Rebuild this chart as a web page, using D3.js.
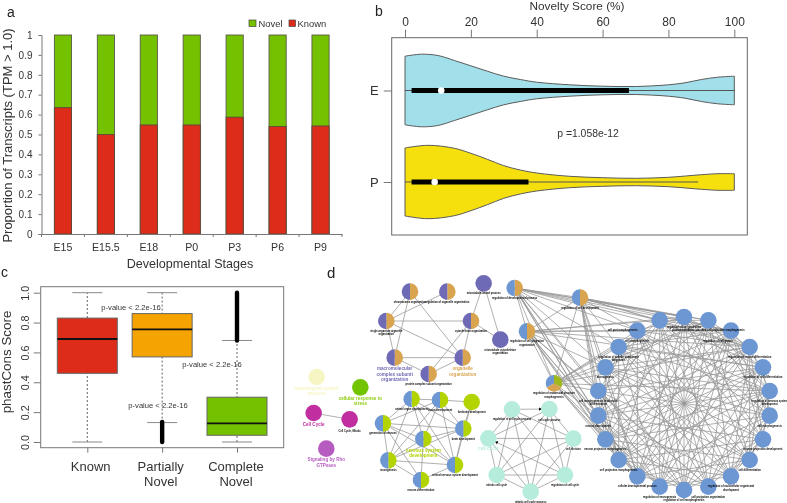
<!DOCTYPE html>
<html><head><meta charset="utf-8">
<style>html,body{margin:0;padding:0;background:#fff;overflow:hidden}svg{display:block;font-family:"Liberation Sans",Arial,sans-serif;filter:blur(.35px)}</style>
<script src="https://cdn.jsdelivr.net/npm/d3@7/dist/d3.min.js"></script>
</head><body><svg id="c" width="787" height="503"></svg>
<script>
// ---------- panel a data ----------
const stages=["E15","E15.5","E18","P0","P3","P6","P9"];
const knownShare=[0.635,0.5,0.548,0.548,0.587,0.54,0.543];
const shareTicks=[0,0.1,0.2,0.3,0.4,0.5,0.6,0.7,0.8,0.9,1];
// ---------- panel b data ----------
const scoreGridE=[0,5,10,15,20,25,30,35,40,50,60,70,80,85,90,95,100];
const densityE=[34.3,36.3,35,30,24.7,19.3,14.3,11,8.3,5.7,4.3,4,5.7,7.7,11,13.3,14.3];
const scoreGridP=[0,7,15,20,25,30,35,40,50,60,70,80,90,95,100];
const densityP=[34,36.7,33.7,28.7,22.7,16.3,12,9,5.7,4.3,3.7,4.7,7.3,8.3,8.3];
const violinGroups=["E","P"];
const whiskerRange=[[0,100],[0,89]];
const iqrRange=[[2,68],[2,37.5]];
const violinMedian=[11,9];
const scoreTicks=[0,20,40,60,80,100];
// ---------- panel c data ----------
const consCategories=["Known","Partially Novel","Complete Novel"];
const consQ1=[0.46,0.57,0.045];
const consMedian=[0.69,0.755,0.125];
const consQ3=[0.83,0.86,0.30];
const consWhiskLow=[0,0.13,0];
const consWhiskHigh=[1,1,0.68];
const consOutliers=[null,[0,0.135],[0.68,1]];
const consTicks=[0,0.2,0.4,0.6,0.8,1];
const pNotes=["p-value < 2.2e-16","p-value < 2.2e-16","p-value < 2.2e-16"];
// ---------- panel d data (layout units) ----------
const nodeNames=[
"chromosome organization","regulation of organelle organization","single-organism organelle\norganization","cytoskeleton organization","macromolecular\ncomplex subunit\norganization","organelle\norganization","protein complex subunit organization","microtubule-based process","microtubule cytoskeleton\norganization",
"regulation of developmental process","regulation of cell projection\norganization","regulation of cell development","regulation of anatomical structure\nmorphogenesis",
"neurological system\nprocess","cellular response to\nstress","Cell Cycle","Cell Cycle, Mitotic","Signaling by Rho\nGTPases",
"animal organ development","tissue development","forebrain development","generation of neurons","brain development","nervous system\ndevelopment","neurogenesis","central nervous system development","neuron differentiation",
"regulation of cell cycle process","cell cycle process","cell division","cell cycle","mitotic cell cycle","regulation of cell cycle","mitotic cell cycle process",
"cell morphogenesis","cell part morphogenesis","regulation of cell projection","plasma membrane bounded cell projection morphogenesis","regulation of cell growth","regulation of neuron differentiation","regulation of cell differentiation","regulation of nervous system\ndevelopment","cell morphogenesis","neuron projection development","cell differentiation","regulation of multicellular organismal\ndevelopment","cell projection organization","regulation of cell morphogenesis","regulation of neurogenesis","cellular developmental process","cell projection morphogenesis","neuron projection morphogenesis","neuron development","cell morphogenesis involved in\ndifferentiation","axonogenesis","regulation of cellular component\nbiogenesis"];
const nodeU=[330,442,259,513,284,488,386,551,601, 644,681,840,762, 50,181,41,149,79,
335,420,515,249,490,370,265,465,363, 636,748,820,565,590,795,692,
1012,1079,1152,1225,1293,1349,1389,1409,1409,1389,1349,1293,1225,1152,1079,1012,956,916,895,895,916,956];
const nodeV=[95,95,183,183,293,293,342,70,239, 84,214,113,370, 351,382,459,478,566,
417,420,426,490,506,537,601,615,660, 448,447,536,535,645,645,695,
212,181,171,181,212,261,322,393,467,538,600,649,680,690,680,649,600,538,467,393,322,261];
const nodeKind=[0,0,0,0,0,0,0,1,1, 2,2,2,3, 4,5,6,6,7, 8,8,9,8,8,8,8,8,8, 10,10,10,10,10,10,10,
11,11,11,11,11,11,11,11,11,11,11,11,11,11,11,11,11,11,11,11,11,11];
const kindSlices=[
 [[1,"#d9a44f"],[1,"#6f6ab5"]],[[1,"#6f6ab5"]],
 [[1,"#d9a44f"],[1,"#6c97d3"]],[[1,"#a0b71e"],[1,"#d9a44f"],[1,"#6c97d3"]],
 [[1,"#f6f5c4"]],[[1,"#72c400"]],[[1,"#c12e9f"]],[[1,"#b65cc0"]],
 [[1,"#b3d400"],[1,"#6c97d3"]],[[1,"#b3d400"]],[[1,"#b5ecdb"]],[[1,"#6c97d3"]]];
const featuredLabels={4:"#6f6ab5",5:"#d9a44f",13:"#f6f5c4",14:"#8fcb10",15:"#c12e9f",17:"#b65cc0",23:"#b3d400",30:"#b5ecdb"};
const labelShift={35:[-37,0],38:[-13,0],28:[0,1],16:[0,2],30:[0,-1]};
const groupEdges=[[0,2],[0,4],[0,5],[1,2],[2,3],[2,5],[2,4],[3,5],[3,6],[3,7],[3,8],[4,5],[4,6],[5,6],[7,8],[9,10],[9,12],[10,12],[9,11],[10,11],[11,12],[15,16],
[18,19],[18,21],[18,22],[18,23],[18,24],[18,25],[19,20],[19,22],[19,21],[19,23],[19,25],[19,24],[20,22],[20,25],[21,22],[21,23],[21,24],[21,25],[21,26],[22,23],[22,25],[22,24],[23,24],[23,25],[23,26],[24,25],[24,26],[25,26],
[27,28],[27,29],[27,30],[27,31],[27,32],[27,33],[28,29],[28,30],[28,31],[28,32],[28,33],[29,30],[29,31],[29,32],[29,33],[30,31],[30,32],[30,33],[31,32],[31,33],[32,33]];
const arrowEdges=[[27,28],[32,30]];
const ringStart=34;
const ringAdjacency=[
[2,4,5,7,8,10,11,12,13,15,17,19],[3,4,6,8,9,11,12,13,14,16,18,20],[5,6,7,9,10,12,13,14,15,17,19,21],[5,7,8,10,11,13,14,15,16,18,20],
[6,8,9,12,13,14,15,16,17,19,21],[7,9,10,11,14,15,16,17,18,20],[8,10,12,13,15,16,17,18,19,21],[9,11,12,14,16,17,18,20,21],
[10,11,13,15,17,19,20],[11,12,14,16,18,20,21],[13,15,17,19,20,21],[14,16,18,20,21],[15,17,19,21],[16,18,20],[17,19,21],[18,20],[19,21],[20],[21],[],[],[]];
const hubAdjacency={9:[0,1,2,3,4,5,21,20,19,18,17,16,15,13],10:[0,1,2,4,5,6,20,19,18,17,16,15,14,12],11:[0,1,2,3,4,5,21,20,19,18,17,16,15],12:[0,20,19,21,18,17,16,15,14,1,3,5,7]};

const svg=d3.select("#c");
const ink="#333", rule="#777";
const panel=(t,x,y,fs)=>svg.append("text").attr("x",x).attr("y",y).attr("font-size",fs).attr("fill","#222").text(t);
panel("a",7,17,14);panel("b",375,16,14);panel("c",1,277,14);panel("d",327,278,15);

function styleAxis(g,fs){g.selectAll("path,line").attr("stroke",rule).attr("stroke-width",1);g.selectAll("text").attr("fill",ink).attr("font-size",fs).attr("font-family","inherit");}

// ---------- a ----------
(function(){
 const x=d3.scaleBand().domain(stages).range([41.5,342]).paddingInner(.6).paddingOuter(.3);
 const y=d3.scaleLinear().domain([0,1]).range([234,35]);
 const g=svg.append("g");
 g.append("g").selectAll("rect").data(stages).join("rect").attr("x",d=>x(d)).attr("width",x.bandwidth()).attr("y",y(1)).attr("height",y(0)-y(1)).attr("fill","#74c100").attr("stroke","#5a5a4a").attr("stroke-width",.9);
 g.append("g").selectAll("rect").data(stages).join("rect").attr("x",d=>x(d)).attr("width",x.bandwidth()).attr("y",(d,i)=>y(knownShare[i])).attr("height",(d,i)=>y(0)-y(knownShare[i])).attr("fill","#dd2c19").attr("stroke","#5a4a3a").attr("stroke-width",.9);
 const ax=g.append("g").attr("transform","translate(0,234)").call(d3.axisBottom(x).tickSize(0).tickPadding(9));
 styleAxis(ax,10.6);
 const step=x.step();
 g.append("g").selectAll("line").data(d3.range(stages.length+1)).join("line").attr("x1",d=>41.5+d*step).attr("x2",d=>41.5+d*step).attr("y1",234).attr("y2",237).attr("stroke",rule);
 const ay=g.append("g").attr("transform","translate(41.5,0)").call(d3.axisLeft(y).tickValues(shareTicks).tickFormat(d3.format("~g")).tickSize(3).tickPadding(6));
 styleAxis(ay,10);
 svg.append("text").attr("x",190).attr("y",268).attr("text-anchor","middle").attr("font-size",12.6).attr("fill",ink).text("Developmental Stages");
 svg.append("text").attr("transform","translate(12,135.5) rotate(-90)").attr("text-anchor","middle").attr("font-size",13).attr("fill",ink).text("Proportion of Transcripts (TPM > 1.0)");
 const lg=svg.append("g");
 lg.append("rect").attr("x",249).attr("y",20).attr("width",7).attr("height",6.5).attr("fill","#74c100").attr("stroke","#444").attr("stroke-width",.7);
 lg.append("text").attr("x",258.5).attr("y",26.8).attr("font-size",9.4).attr("fill",ink).text("Novel");
 lg.append("rect").attr("x",289).attr("y",20).attr("width",6.5).attr("height",6.5).attr("fill","#dd2c19").attr("stroke","#444").attr("stroke-width",.7);
 lg.append("text").attr("x",297.5).attr("y",26.8).attr("font-size",9.4).attr("fill",ink).text("Known");
})();

// ---------- b ----------
(function(){
 const x=d3.scaleLinear().domain([0,100]).range([405,734.3]);
 const y=d3.scalePoint().domain(violinGroups).range([90.5,182]);
 const w=d3.scaleLinear().domain([0,40]).range([0,40]);
 const fills=["#a1e0ea","#f5e00e"];
 const series=[[scoreGridE,densityE],[scoreGridP,densityP]];
 const g=svg.append("g");
 violinGroups.forEach((name,i)=>{
  const pts=d3.zip(series[i][0],series[i][1]);
  const area=d3.area().x(d=>x(d[0])).y0(d=>y(name)-w(d[1])).y1(d=>y(name)+w(d[1])).curve(d3.curveCatmullRom.alpha(.5));
  g.append("path").attr("d",area(pts)).attr("fill",fills[i]).attr("stroke","#5a5a5a").attr("stroke-width",1);
  g.append("line").attr("x1",x(whiskerRange[i][0])).attr("x2",x(whiskerRange[i][1])).attr("y1",y(name)).attr("y2",y(name)).attr("stroke","#555").attr("stroke-width",1);
  g.append("line").attr("x1",x(iqrRange[i][0])).attr("x2",x(iqrRange[i][1])).attr("y1",y(name)).attr("y2",y(name)).attr("stroke","#000").attr("stroke-width",5.2);
  g.append("circle").attr("cx",x(violinMedian[i])).attr("cy",y(name)).attr("r",3.3).attr("fill","#fff");
 });
 g.append("rect").attr("x",391.7).attr("y",37.7).attr("width",355.6).attr("height",197.3).attr("fill","none").attr("stroke","#666").attr("stroke-width",1);
 const ax=g.append("g").attr("transform","translate(0,37.7)").call(d3.axisTop(x).tickValues(scoreTicks).tickSize(8).tickPadding(4).tickSizeOuter(0));
 styleAxis(ax,12);ax.select("path").attr("stroke","none");
 const ay=g.append("g").attr("transform","translate(391.7,0)").call(d3.axisLeft(y).tickSize(8).tickPadding(5).tickSizeOuter(0));
 styleAxis(ay,13);ay.select("path").attr("stroke","none");
 svg.append("text").attr("x",577).attr("y",9.5).attr("text-anchor","middle").attr("font-size",11.8).attr("fill",ink).text("Novelty Score (%)");
 svg.append("text").attr("x",588).attr("y",137).attr("text-anchor","middle").attr("font-size",10.4).attr("fill",ink).text("p =1.058e-12");
})();

// ---------- c ----------
(function(){
 const x=d3.scalePoint().domain(consCategories).range([87.3,237]);
 const y=d3.scaleLinear().domain([0,1]).range([442,292.7]);
 const fills=["#dd2c19","#f5a300","#74c100"];
 const g=svg.append("g");
 consCategories.forEach((c,i)=>{
  const cx=x(c),bw=30,cw=15;
  g.append("line").attr("x1",cx).attr("x2",cx).attr("y1",y(consWhiskLow[i])).attr("y2",y(consWhiskHigh[i])).attr("stroke","#666").attr("stroke-width",1).attr("stroke-dasharray","2,2");
  [consWhiskLow[i],consWhiskHigh[i]].forEach(v=>g.append("line").attr("x1",cx-cw).attr("x2",cx+cw).attr("y1",y(v)).attr("y2",y(v)).attr("stroke","#888").attr("stroke-width",1));
  if(consOutliers[i])g.append("line").attr("x1",cx).attr("x2",cx).attr("y1",y(consOutliers[i][0])).attr("y2",y(consOutliers[i][1])).attr("stroke","#000").attr("stroke-width",4.4).attr("stroke-linecap","round");
  g.append("rect").attr("x",cx-bw).attr("width",bw*2).attr("y",y(consQ3[i])).attr("height",y(consQ1[i])-y(consQ3[i])).attr("fill",fills[i]).attr("stroke","#666").attr("stroke-width",1);
  g.append("line").attr("x1",cx-bw).attr("x2",cx+bw).attr("y1",y(consMedian[i])).attr("y2",y(consMedian[i])).attr("stroke","#111").attr("stroke-width",1.8);
 });
 g.append("rect").attr("x",40.7).attr("y",286.7).attr("width",243).attr("height",161).attr("fill","none").attr("stroke","#777").attr("stroke-width",1);
 const ay=g.append("g").attr("transform","translate(40.7,0)").call(d3.axisLeft(y).tickValues(consTicks).tickFormat(d3.format(".1f")).tickSize(7).tickSizeOuter(0));
 styleAxis(ay,10.8);ay.select("path").attr("stroke","none");
 ay.selectAll("text").attr("transform","translate(-15,0) rotate(-90)").attr("x",0).attr("y",0).attr("dy","0.35em").attr("text-anchor","middle");
 const ax=g.append("g").attr("transform","translate(0,447.7)").call(d3.axisBottom(x).tickSize(5).tickFormat("").tickSizeOuter(0));
 styleAxis(ax,13);ax.select("path").attr("stroke","none");
 const catLabelX=[90.7,160.7,236];
 consCategories.forEach((c,i)=>{
  const parts=c.split(" ");
  parts.forEach((t,j)=>svg.append("text").attr("x",catLabelX[i]).attr("y",470.5+j*15.5).attr("text-anchor","middle").attr("font-size",13).attr("fill",ink).text(t));
 });
 svg.append("text").attr("transform","translate(11,362) rotate(-90)").attr("text-anchor","middle").attr("font-size",13.4).attr("fill",ink).text("phastCons Score");
 const noteX=[131,212,158],noteY=[310,367,408];
 pNotes.forEach((t,i)=>svg.append("text").attr("x",noteX[i]).attr("y",noteY[i]).attr("text-anchor","middle").attr("font-size",7.6).attr("fill",ink).text(t));
})();

// ---------- d ----------
(function(){
 const X=d3.scaleLinear().domain([0,1461]).range([300,787]);
 const Y=d3.scaleLinear().domain([0,729]).range([260,503]);
 const R=8.3;
 const edges=groupEdges.slice();
 ringAdjacency.forEach((list,i)=>list.forEach(j=>edges.push([ringStart+i,ringStart+j])));
 Object.entries(hubAdjacency).forEach(([h,list])=>list.forEach(j=>edges.push([+h,ringStart+j])));
 const g=svg.append("g");
 g.append("g").selectAll("line").data(edges).join("line")
  .attr("x1",d=>X(nodeU[d[0]])).attr("y1",d=>Y(nodeV[d[0]])).attr("x2",d=>X(nodeU[d[1]])).attr("y2",d=>Y(nodeV[d[1]]))
  .attr("stroke","#959595").attr("stroke-width",.75);
 const tip=d3.symbol().type(d3.symbolTriangle).size(5);
 g.append("g").selectAll("path").data(arrowEdges).join("path").attr("d",tip).attr("fill","#000")
  .attr("transform",d=>{const x1=X(nodeU[d[0]]),y1=Y(nodeV[d[0]]),x2=X(nodeU[d[1]]),y2=Y(nodeV[d[1]]);const a=Math.atan2(y2-y1,x2-x1),l=R+1;return `translate(${x2-Math.cos(a)*l},${y2-Math.sin(a)*l}) rotate(${a*180/Math.PI+90})`;});
 const pie=d3.pie().value(d=>d[0]).sort(null);
 const arc=d3.arc().innerRadius(0).outerRadius(R);
 const nodes=g.append("g").selectAll("g").data(nodeNames).join("g").attr("transform",(d,i)=>`translate(${X(nodeU[i])},${Y(nodeV[i])})`);
 nodes.each(function(d,i){
  const sl=kindSlices[nodeKind[i]];
  const s=d3.select(this);
  if(sl.length===1)s.append("circle").attr("r",R).attr("fill",sl[0][1]);
  else s.selectAll("path").data(pie(sl)).join("path").attr("d",arc).attr("fill",p=>p.data[1]);
 });
 const lab=g.append("g");
 nodeNames.forEach((name,i)=>{
  const col=featuredLabels[i];
  const sh=labelShift[i]||[0,0];
  name.split("\n").forEach((t,j)=>{
   lab.append("text").attr("x",X(nodeU[i])+sh[0]).attr("y",Y(nodeV[i])+sh[1]+(col?12.5+j*5.5:11+j*3.2))
    .attr("text-anchor","middle").attr("font-size",col?4.6:2.6).attr("font-weight","bold").attr("fill",col||"#000").text(t);
  });
 });
})();
</script></body></html>
